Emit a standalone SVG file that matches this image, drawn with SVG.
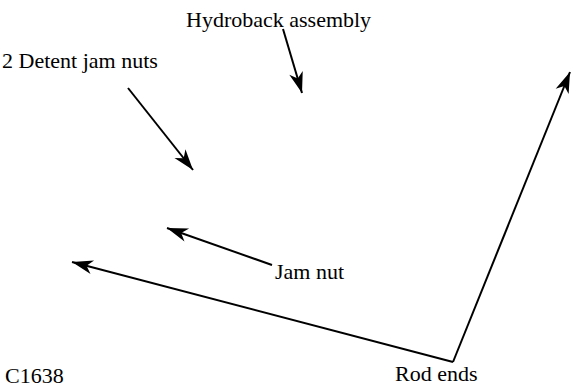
<svg xmlns="http://www.w3.org/2000/svg" width="571" height="387" viewBox="0 0 571 387">
<style>
.t{font-size:22px;fill:#000}
.c{stroke:#000;stroke-width:2;fill:none;marker-end:url(#ah)}
</style>
<defs>
<marker id="ah" markerUnits="userSpaceOnUse" viewBox="-22 -8 24 16" refX="0" refY="0" markerWidth="24" markerHeight="16" orient="auto">
<path d="M0,0 L-21,-7 L-15,0 L-21,7 Z" fill="#000"/>
</marker>
</defs>
<rect width="571" height="387" fill="#fff"/>
<g id="connectors">
<path class="c" d="M283,29 L302,93"/>
<path class="c" d="M128,88 L193,170"/>
<path class="c" d="M272,265 L167,228"/>
<path class="c" d="M453,362 L72,262"/>
<path class="c" d="M453,362 L570,72"/>
</g>
<g font-family="'Liberation Serif', 'Times New Roman', serif">
<g id="hydroback"><text class="t" x="186" y="27">Hydroback assembly</text></g>
<g id="detent"><text class="t" x="2" y="68">2 Detent jam nuts</text></g>
<g id="jamnut"><text class="t" x="275" y="279">Jam nut</text></g>
<g id="rodends"><text class="t" x="395" y="381">Rod ends</text></g>
<g id="c1638"><text class="t" x="5" y="383">C1638</text></g>
</g>
</svg>
